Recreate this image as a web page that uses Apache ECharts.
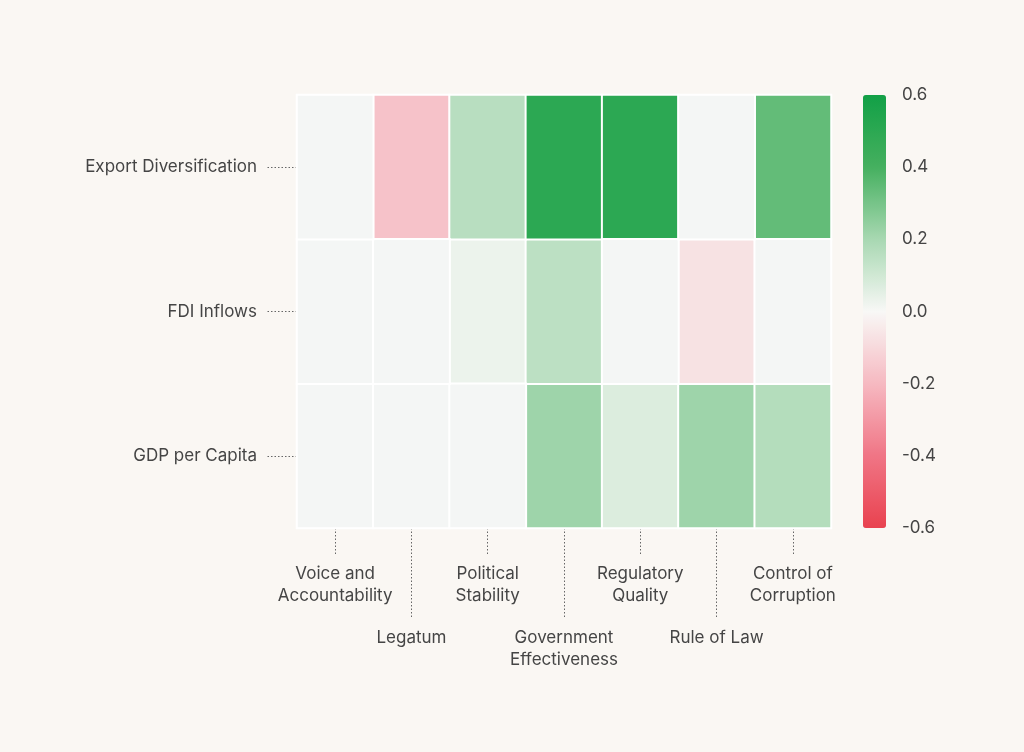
<!DOCTYPE html>
<html><head><meta charset="utf-8">
<script src="https://cdn.jsdelivr.net/npm/echarts@6/dist/echarts.min.js"></script>
<style>html,body{margin:0;padding:0;background:#faf7f3}#c{width:1024px;height:752px}</style>
</head><body><div id="c"></div>
<script>
const indicators = ['Voice and\nAccountability','Legatum','Political\nStability','Government\nEffectiveness','Regulatory\nQuality','Rule of Law','Control of\nCorruption'];
const outcomes = ['GDP per Capita','FDI Inflows','Export Diversification'];
// null = no value shown (grey cell)
const exportDiversification = [null, -0.17, 0.16, 0.50, 0.50, null, 0.34];
const fdiInflows            = [null, null, 0.03, 0.15, null, -0.07, null];
const gdpPerCapita          = [null, null, null, 0.22, 0.07, 0.22, 0.17];
const scaleTicks = [-0.6, -0.4, -0.2, 0.0, 0.2, 0.4, 0.6];

const rows = [gdpPerCapita, fdiInflows, exportDiversification];
const valued = [], missing = [];
rows.forEach((r, yi) => r.forEach((v, xi) => {
  if (v === null) missing.push([xi, yi, 0]); else valued.push([xi, yi, v]);
}));

const font = 'Inter';
const txt = '#454545';
const fs = 17;
const dotted = {color:'#666', type:[1.5,2], width:1};

const chart = echarts.init(document.getElementById('c'));
chart.setOption({
  backgroundColor:'#faf7f3',
  textStyle:{fontFamily:font},
  grid:[
    {left:297, top:95, width:534, height:433},
    {left:863, top:95, width:23, height:433}
  ],
  xAxis:[
    {type:'category', data:indicators, gridIndex:0, position:'bottom',
     axisLine:{show:false}, splitLine:{show:false},
     axisTick:{show:true, alignWithLabel:true, length:26, lineStyle:dotted, interval:(i)=>i%2===0},
     axisLabel:{interval:(i)=>i%2===0, margin:35, color:txt, fontSize:fs, lineHeight:22, fontFamily:font}},
    {type:'category', data:indicators, gridIndex:0, position:'bottom',
     axisLine:{show:false}, splitLine:{show:false},
     axisTick:{show:true, alignWithLabel:true, length:90, lineStyle:dotted, interval:(i)=>i%2===1},
     axisLabel:{interval:(i)=>i%2===1, margin:99, color:txt, fontSize:fs, lineHeight:22, fontFamily:font}},
    {type:'value', gridIndex:1, show:false, min:0, max:1}
  ],
  yAxis:[
    {type:'category', data:outcomes, gridIndex:0,
     axisLine:{show:false}, splitLine:{show:false},
     axisTick:{show:true, alignWithLabel:true, length:30, lineStyle:dotted},
     axisLabel:{margin:40, color:txt, fontSize:fs, fontFamily:font}},
    {type:'value', gridIndex:1, position:'right', min:-0.6, max:0.6, interval:0.2,
     axisLine:{show:false}, axisTick:{show:false}, splitLine:{show:false},
     axisLabel:{margin:16, color:txt, fontSize:fs, fontFamily:font,
       formatter:(v)=>{const s=(Math.round(v*10)/10).toFixed(1); return s;}}}
  ],
  visualMap:{
    type:'continuous', min:-0.6, max:0.6, seriesIndex:0, calculable:false,
    orient:'vertical', left:863, top:95, itemWidth:23, itemHeight:433, padding:0,
    text:null, showLabel:false,
    inRange:{color:['#e9424f','#f07585','#f6b9c1','#f8f8f6','#a8d8b2','#45b05f','#12a046']}
  },
  series:[
    {type:'heatmap', xAxisIndex:0, yAxisIndex:0, data:valued,
     itemStyle:{borderColor:'#ffffff', borderWidth:2}, emphasis:{disabled:true}},
    {type:'heatmap', xAxisIndex:0, yAxisIndex:0, data:missing,
     itemStyle:{color:'#f4f6f5', borderColor:'#ffffff', borderWidth:2}, emphasis:{disabled:true}},
    {type:'scatter', xAxisIndex:2, yAxisIndex:1, data:scaleTicks.map(v=>[0.5,v]), symbolSize:0, silent:true}
  ]
});
</script></body></html>
